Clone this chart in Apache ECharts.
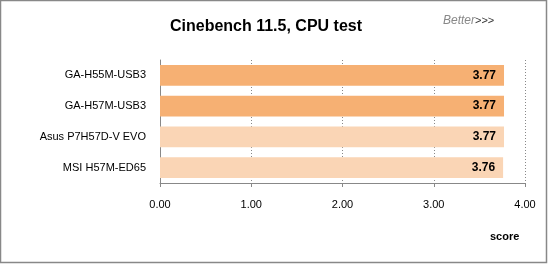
<!DOCTYPE html>
<html><head><meta charset="utf-8">
<script src="https://cdn.jsdelivr.net/npm/echarts@6/dist/echarts.min.js"></script>
<style>html,body{margin:0;padding:0;background:#fff}#c{width:548px;height:264px}</style>
</head><body><div id="c"></div>
<script>
const categories = ['GA-H55M-USB3','GA-H57M-USB3','Asus P7H57D-V EVO','MSI H57M-ED65'];
const values = [3.77, 3.77, 3.77, 3.76];
const highlighted = [true, true, false, false];
const xTicks = [0, 1, 2, 3, 4];

const font = 'Liberation Sans';
const chart = echarts.init(document.getElementById('c'), null, {renderer:'canvas'});
chart.setOption({
  animation:false,
  backgroundColor:'#fff',
  title:{text:'Cinebench 11.5, CPU test', left:261, top:14, textAlign:'center',
    textStyle:{fontFamily:font, fontWeight:'bold', fontSize:16, color:'#000'}},
  graphic:[
    {type:'rect', shape:{x:0.5,y:0.5,width:546,height:262}, style:{fill:'none', stroke:'#888', lineWidth:1.5}},
    {type:'text', left:443, top:15, style:{
      text:'{a|Better}{b|>>>}', rich:{a:{fontFamily:font, fontStyle:'italic', fontSize:12, fill:'#888'}, b:{fontFamily:font, fontSize:11, fill:'#333'}}}},
    {type:'text', left:490, top:231, style:{text:'score', fontFamily:font, fontWeight:'bold', fontSize:11, fill:'#000'}}
  ],
  grid:{left:160, right:23, top:60, bottom:81},
  xAxis:{type:'value', min:0, max:4, interval:1,
    axisLine:{show:true, lineStyle:{color:'#888'}},
    axisTick:{show:true, length:4, lineStyle:{color:'#888'}},
    axisLabel:{margin:16, fontFamily:font, fontSize:11, color:'#000', formatter:v=>v.toFixed(2)},
    splitLine:{show:true, lineStyle:{color:'#888', type:[1,2], width:1}}},
  yAxis:{type:'category', data:categories, inverse:true,
    axisLine:{show:true, lineStyle:{color:'#888'}},
    axisTick:{show:false},
    axisLabel:{margin:14, fontFamily:font, fontSize:11, color:'#000'}},
  series:[{type:'bar', barWidth:'67%',
    data: values.map((v,i)=>({value:v, itemStyle:{color: highlighted[i] ? '#F6B073' : '#FAD5B5'}})),
    label:{show:true, position:'insideRight', offset:[-3,0], formatter:p=>p.value.toFixed(2),
      fontFamily:font, fontWeight:'bold', fontSize:12, color:'#000'}}]
});
</script></body></html>
